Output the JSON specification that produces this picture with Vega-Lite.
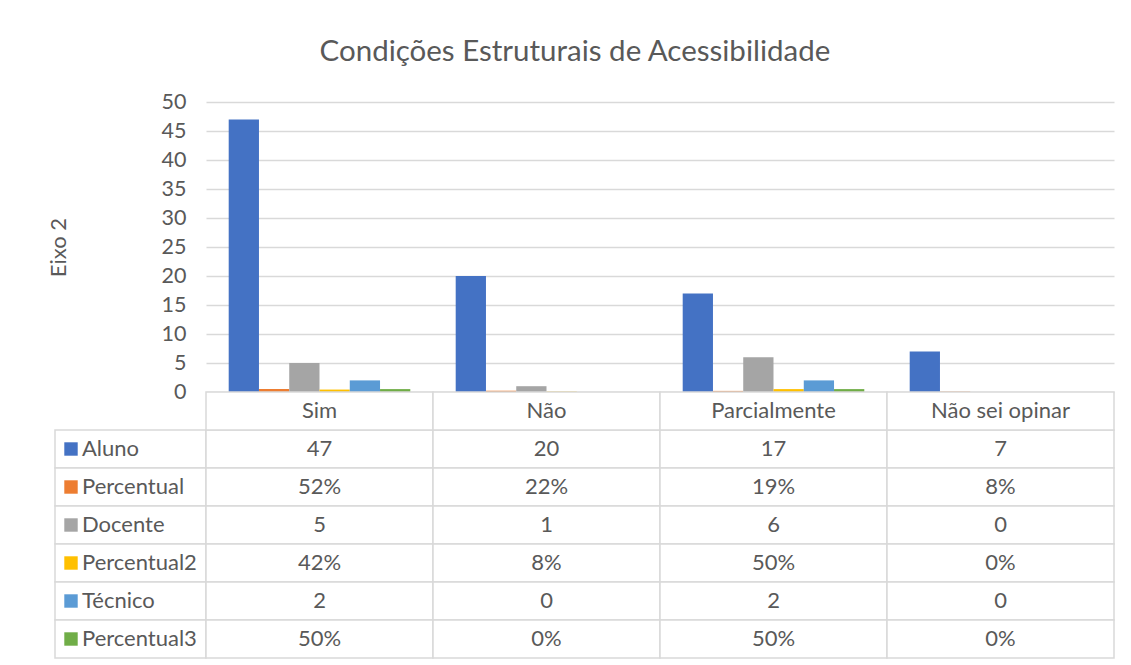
{
  "$schema": "https://vega.github.io/schema/vega-lite/v6.json",
  "padding": {"left": 47, "top": 36, "right": 10, "bottom": 0},
  "background": "white",
  "title": {"text": "Condições Estruturais de Acessibilidade", "fontSize": 29.5, "font": "Lato", "fontWeight": "normal", "color": "#595959", "anchor": "middle", "offset": 24, "dx": -6},
  "config": {"view": {"stroke": null}, "font": "Lato"},
  "datasets": {
    "values": [
      {"cat": "Sim", "serie": "Aluno", "value": 47, "label": "47"},
      {"cat": "Não", "serie": "Aluno", "value": 20, "label": "20"},
      {"cat": "Parcialmente", "serie": "Aluno", "value": 17, "label": "17"},
      {"cat": "Não sei opinar", "serie": "Aluno", "value": 7, "label": "7"},
      {"cat": "Sim", "serie": "Percentual", "value": 0.52, "label": "52%"},
      {"cat": "Não", "serie": "Percentual", "value": 0.22, "label": "22%"},
      {"cat": "Parcialmente", "serie": "Percentual", "value": 0.19, "label": "19%"},
      {"cat": "Não sei opinar", "serie": "Percentual", "value": 0.08, "label": "8%"},
      {"cat": "Sim", "serie": "Docente", "value": 5, "label": "5"},
      {"cat": "Não", "serie": "Docente", "value": 1, "label": "1"},
      {"cat": "Parcialmente", "serie": "Docente", "value": 6, "label": "6"},
      {"cat": "Não sei opinar", "serie": "Docente", "value": 0, "label": "0"},
      {"cat": "Sim", "serie": "Percentual2", "value": 0.42, "label": "42%"},
      {"cat": "Não", "serie": "Percentual2", "value": 0.08, "label": "8%"},
      {"cat": "Parcialmente", "serie": "Percentual2", "value": 0.5, "label": "50%"},
      {"cat": "Não sei opinar", "serie": "Percentual2", "value": 0, "label": "0%"},
      {"cat": "Sim", "serie": "Técnico", "value": 2, "label": "2"},
      {"cat": "Não", "serie": "Técnico", "value": 0, "label": "0"},
      {"cat": "Parcialmente", "serie": "Técnico", "value": 2, "label": "2"},
      {"cat": "Não sei opinar", "serie": "Técnico", "value": 0, "label": "0"},
      {"cat": "Sim", "serie": "Percentual3", "value": 0.5, "label": "50%"},
      {"cat": "Não", "serie": "Percentual3", "value": 0, "label": "0%"},
      {"cat": "Parcialmente", "serie": "Percentual3", "value": 0.5, "label": "50%"},
      {"cat": "Não sei opinar", "serie": "Percentual3", "value": 0, "label": "0%"}
    ],
    "head": [
      {"cat": "Sim", "serie": "header", "label": "Sim"},
      {"cat": "Não", "serie": "header", "label": "Não"},
      {"cat": "Parcialmente", "serie": "header", "label": "Parcialmente"},
      {"cat": "Não sei opinar", "serie": "header", "label": "Não sei opinar"}
    ]
  },
  "columns": 2,
  "spacing": 0,
  "bounds": "flush",
  "concat": [
    {
      "width": 151, "height": 290,
      "data": {"values": []},
      "mark": "point",
      "encoding": {}
    },
    {
      "width": 908, "height": 290,
      "data": {"name": "values"},
      "mark": {"type": "bar"},
      "encoding": {
        "x": {"field": "cat", "type": "nominal", "sort": ["Sim", "Não", "Parcialmente", "Não sei opinar"], "scale": {"paddingInner": 0.2, "paddingOuter": 0.1}, "axis": null},
        "xOffset": {"field": "serie", "type": "nominal", "sort": ["Aluno", "Percentual", "Docente", "Percentual2", "Técnico", "Percentual3"], "scale": {"paddingInner": 0, "paddingOuter": 0}},
        "y": {"field": "value", "type": "quantitative", "scale": {"domain": [0, 50], "nice": false},
          "axis": {"values": [0, 5, 10, 15, 20, 25, 30, 35, 40, 45, 50], "title": "Eixo 2", "titleFont": "Lato", "titleFontSize": 22, "titleFontWeight": "normal", "titleColor": "#595959", "titlePadding": 91,
            "labelFont": "Lato", "labelFontSize": 21.5, "labelColor": "#595959", "labelPadding": 20, "ticks": false, "domain": false, "gridColor": "#d9d9d9", "gridWidth": 1.3}},
        "color": {"field": "serie", "type": "nominal", "scale": {"domain": ["Aluno", "Percentual", "Docente", "Percentual2", "Técnico", "Percentual3"], "range": ["#4472C4", "#ED7D31", "#A5A5A5", "#FFC000", "#5B9BD5", "#70AD47"]}, "legend": null}
      }
    },
    {
      "width": 151, "height": 266,
      "data": {"name": "values"},
      "transform": [{"filter": "datum.cat === 'Sim'"}],
      "encoding": {
        "y": {"field": "serie", "type": "nominal", "scale": {"domain": ["header", "Aluno", "Percentual", "Docente", "Percentual2", "Técnico", "Percentual3"], "paddingInner": 0, "paddingOuter": 0}, "axis": null}
      },
      "layer": [
        {"mark": {"type": "rect", "fill": "white", "stroke": "#d9d9d9", "strokeWidth": 1.5}},
        {"mark": {"type": "square", "size": 180, "filled": true, "opacity": 1},
          "encoding": {"x": {"value": 16},
            "color": {"field": "serie", "type": "nominal", "scale": {"domain": ["Aluno", "Percentual", "Docente", "Percentual2", "Técnico", "Percentual3"], "range": ["#4472C4", "#ED7D31", "#A5A5A5", "#FFC000", "#5B9BD5", "#70AD47"]}, "legend": null}}},
        {"mark": {"type": "text", "align": "left", "baseline": "middle", "fontSize": 22, "color": "#595959", "font": "Lato"},
          "encoding": {"x": {"value": 27}, "text": {"field": "serie"}}}
      ]
    },
    {
      "width": 908, "height": 266,
      "encoding": {
        "x": {"field": "cat", "type": "nominal", "sort": ["Sim", "Não", "Parcialmente", "Não sei opinar"], "scale": {"paddingInner": 0, "paddingOuter": 0}, "axis": null},
        "y": {"field": "serie", "type": "nominal", "scale": {"domain": ["header", "Aluno", "Percentual", "Docente", "Percentual2", "Técnico", "Percentual3"], "paddingInner": 0, "paddingOuter": 0}, "axis": null}
      },
      "layer": [
        {"data": {"name": "values"}, "mark": {"type": "rect", "fill": "white", "stroke": "#d9d9d9", "strokeWidth": 1.5}},
        {"data": {"name": "head"}, "mark": {"type": "rect", "fill": "white", "stroke": "#d9d9d9", "strokeWidth": 1.5}},
        {"data": {"name": "values"}, "mark": {"type": "text", "baseline": "middle", "fontSize": 22, "color": "#595959", "font": "Lato"}, "encoding": {"text": {"field": "label"}}},
        {"data": {"name": "head"}, "mark": {"type": "text", "baseline": "middle", "fontSize": 22, "color": "#595959", "font": "Lato"}, "encoding": {"text": {"field": "label"}}}
      ]
    }
  ]
}
